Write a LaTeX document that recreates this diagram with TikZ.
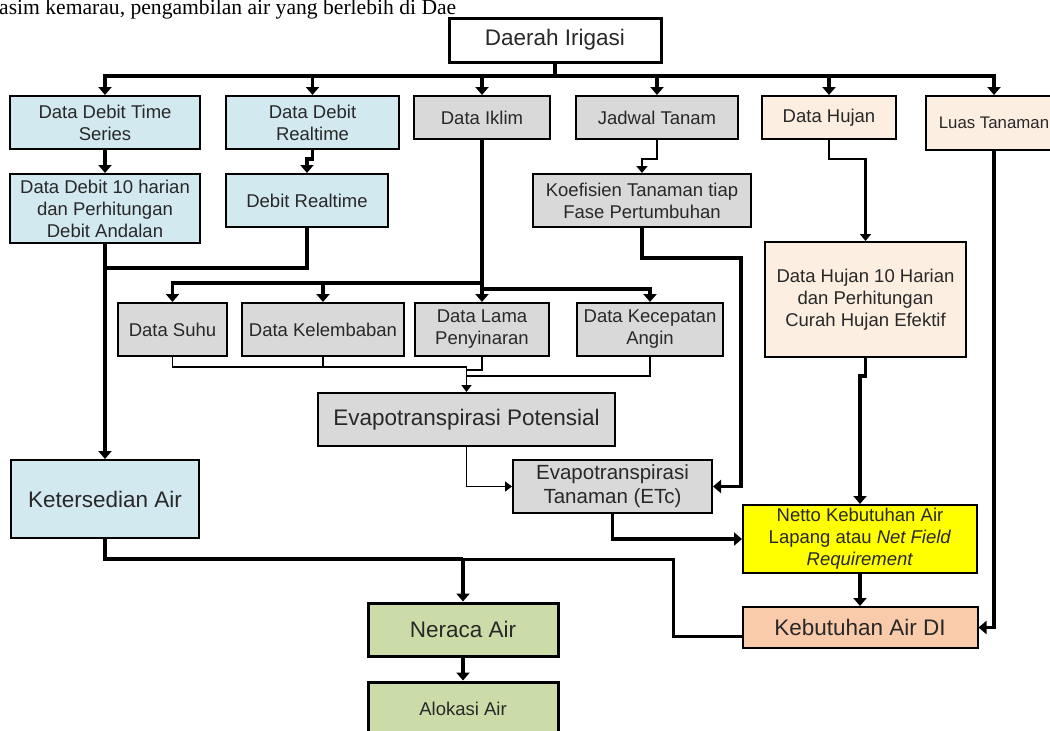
\documentclass[tikz,border=0pt]{standalone}
\usepackage{fontspec}
\setmainfont{Liberation Sans}
\newfontfamily\serifdoc{Liberation Serif}
\usepackage{xcolor}
\usepackage{tikz}
\usetikzlibrary{arrows.meta}

\definecolor{biru}{RGB}{210,233,239}
\definecolor{abu}{RGB}{217,217,217}
\definecolor{krem}{RGB}{253,238,226}
\definecolor{oranye}{RGB}{250,203,170}
\definecolor{kuning}{RGB}{255,255,0}
\definecolor{hijau}{RGB}{204,220,168}
\definecolor{teks}{RGB}{40,40,40}

\begin{document}
\begin{tikzpicture}[x=1pt, y=-1pt,
    kotak/.style={draw, line width=2pt, inner sep=0pt, align=center, text=teks,
        font=\fontsize{18.5}{22}\selectfont},
    besar/.style={font=\fontsize{22.5}{26}\selectfont},
    tebal/.style={line width=3.6pt, -{Triangle[width=13pt,length=8pt]}},
    sedang/.style={line width=2.2pt, -{Triangle[width=11pt,length=7pt]}},
    tipis/.style={line width=1.6pt, -{Triangle[width=10pt,length=7pt]}}]
    \useasboundingbox (0,0) rectangle (1050,731);

    \node[anchor=base west, inner sep=0pt, font=\serifdoc\fontsize{21.6}{24}\selectfont] (kutipan) at (-1,14) {asim kemarau, pengambilan air yang berlebih di Dae};

    \node[kotak, besar, line width=3pt, fill=white, minimum width=212, minimum height=44] (DI) at (555,40) {Daerah Irigasi};

    \node[kotak, fill=biru, minimum width=190, minimum height=53] (DDTS) at (105,122.5) {Data Debit Time\\Series};
    \node[kotak, fill=biru, minimum width=173, minimum height=53] (DDR) at (312.5,122.5) {Data Debit\\Realtime};
    \node[kotak, fill=abu, minimum width=136, minimum height=43] (DIk) at (482,117.5) {Data Iklim};
    \node[kotak, fill=abu, minimum width=162, minimum height=43] (JT) at (657,117.5) {Jadwal Tanam};
    \node[kotak, fill=krem, minimum width=134, minimum height=43] (DH) at (829,117.5) {Data Hujan};
    \node[kotak, fill=krem, minimum width=136, minimum height=54, font=\fontsize{16.8}{20}\selectfont] (LT) at (994,123) {Luas Tanaman};

    \node[kotak, fill=biru, minimum width=190, minimum height=69] (DD10) at (105,208.5) {Data Debit 10 harian\\dan Perhitungan\\Debit Andalan};
    \node[kotak, fill=biru, minimum width=162, minimum height=53] (DR) at (307,200.5) {Debit Realtime};
    \node[kotak, fill=abu, minimum width=218, minimum height=53] (KT) at (642,200.5) {Koefisien Tanaman tiap\\Fase Pertumbuhan};
    \node[kotak, fill=krem, minimum width=201, minimum height=115] (DH10) at (865.5,299.5) {Data Hujan 10 Harian\\dan Perhitungan\\Curah Hujan Efektif};

    \node[kotak, fill=abu, minimum width=109, minimum height=53] (DS) at (172.5,329.5) {Data Suhu};
    \node[kotak, fill=abu, minimum width=162, minimum height=53] (DK) at (323,329.5) {Data Kelembaban};
    \node[kotak, fill=abu, minimum width=134, minimum height=53] (DLP) at (482,329.5) {Data Lama\\Penyinaran};
    \node[kotak, fill=abu, minimum width=146, minimum height=53] (DKA) at (650,329.5) {Data Kecepatan\\Angin};

    \node[kotak, besar, fill=abu, minimum width=297, minimum height=53] (EP) at (466.5,419.5) {Evapotranspirasi Potensial};
    \node[kotak, fill=abu, minimum width=199, minimum height=53, font=\fontsize{20.5}{24}\selectfont] (ETc) at (612.5,486.5) {Evapotranspirasi\\Tanaman (ETc)};
    \node[kotak, besar, fill=biru, minimum width=188, minimum height=78] (KA) at (105,499) {Ketersedian Air};
    \node[kotak, fill=kuning, minimum width=234, minimum height=68] (NKA) at (860,539) {Netto Kebutuhan Air\\Lapang atau \textit{Net Field}\\\textit{Requirement}};
    \node[kotak, besar, fill=oranye, minimum width=235, minimum height=41] (KAD) at (860,627.5) {Kebutuhan Air DI};
    \node[kotak, besar, line width=3pt, fill=hijau, minimum width=190, minimum height=53] (NA) at (463,629.5) {Neraca Air};
    \node[kotak, line width=3pt, fill=hijau, minimum width=190, minimum height=54] (AA) at (463,709) {Alokasi Air};

    \coordinate (bus) at (555,76);
    \coordinate (iklimA) at (482,283);
    \coordinate (iklimB) at (482,289);
    \coordinate (gabung) at (105,268);
    \coordinate (kumpul) at (466.5,367);
    \coordinate (belokKT) at (741,258);
    \coordinate (cabang) at (463,559);
    \coordinate (belokDI) at (673,559);

    \draw[tebal, -] (DI.south) -- (bus);
    \foreach \n in {DDTS,DDR,DIk,JT,DH,LT}
        \draw[tebal] (bus) -| (\n.north);

    \draw[tebal] (DDTS) -- (DD10);
    \draw[tebal] (DDR.south) -- ++(0,9) -| (DR.north);
    \draw[sedang] (JT.south) -- ++(0,19) -| (KT.north);
    \draw[sedang] (DH.south) -- ++(0,19) -| (DH10.north);

    \draw[tebal] (DD10.south) -- (KA.north);
    \draw[tebal, -] (DR.south) |- (gabung);

    \draw[tebal] (DIk.south) -- (DLP.north);
    \draw[tebal] (iklimA) -| (DS.north);
    \draw[tebal] (iklimA) -| (DK.north);
    \draw[tebal] (iklimB) -| (DKA.north);

    \draw[tipis, -] (DS.south) |- (kumpul);
    \draw[tipis, -] (DK.south) |- (kumpul);
    \draw[tipis, -] (DLP.south) -- ++(0,13) -| (kumpul);
    \draw[tipis, -] (DKA.south) -- ++(0,19) -| (kumpul);
    \draw[tipis] (kumpul) -- (EP.north);
    \draw[tipis] (EP.south) |- (ETc.west);

    \draw[tebal] (KT.south) |- (belokKT) |- (ETc.east);
    \draw[tebal] (ETc.south) |- (NKA.west);
    \draw[tebal] (DH10.south) -- ++(0,18) -| (NKA.north);
    \draw[tebal] (NKA) -- (KAD);
    \draw[tebal] (LT.south) |- (KAD.east);

    \draw[tebal, -] (KA.south) |- (cabang);
    \draw[tebal] (cabang) -- (NA.north);
    \draw[line width=3pt] (cabang) -- (belokDI) |- ([yshift=-9pt]KAD.west);
    \draw[tebal] (NA) -- (AA);
\end{tikzpicture}
\end{document}
